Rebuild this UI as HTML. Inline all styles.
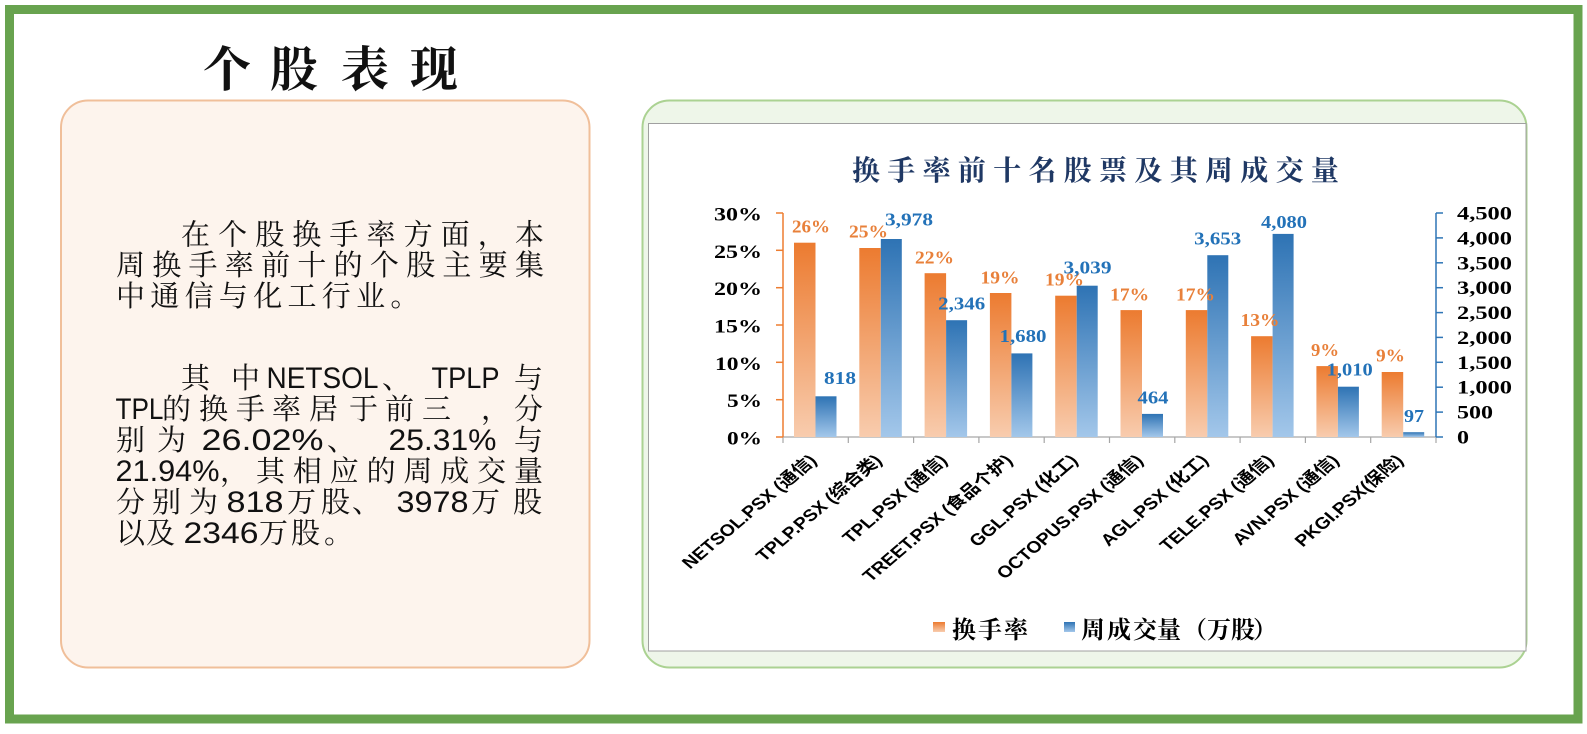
<!DOCTYPE html>
<html>
<head>
<meta charset="utf-8">
<style>
html,body{margin:0;padding:0;background:#fff;}
svg{display:block;}
.cj{font-family:"Liberation Sans","Noto Serif CJK SC",serif;font-size:29px;fill:#111;}
.lt{font-family:"Liberation Sans","Noto Sans CJK SC",sans-serif;font-size:30px;fill:#111;}
.ax{font-family:"Liberation Serif","Noto Serif CJK SC",serif;font-size:19px;font-weight:bold;fill:#000;}
.dl{font-family:"Liberation Serif","Noto Serif CJK SC",serif;font-size:18px;font-weight:bold;}
.xl{font-family:"Liberation Sans","Noto Sans CJK SC",sans-serif;font-size:16.5px;font-weight:bold;fill:#000;}
.lg{font-family:"Liberation Serif","Noto Serif CJK SC",serif;font-size:24px;font-weight:bold;fill:#000;}
</style>
</head>
<body>
<svg width="1587" height="734" viewBox="0 0 1587 734" xmlns="http://www.w3.org/2000/svg">
<defs>
<linearGradient id="go" x1="0" y1="0" x2="0" y2="1"><stop offset="0" stop-color="#ec7b30"/><stop offset="1" stop-color="#f8ccae"/></linearGradient>
<linearGradient id="gb" x1="0" y1="0" x2="0" y2="1"><stop offset="0" stop-color="#2e73b4"/><stop offset="1" stop-color="#a3c7ea"/></linearGradient>
</defs>
<rect width="1587" height="734" fill="#fff"/>
<!-- outer frame -->
<rect x="9.5" y="9.5" width="1568.5" height="709.5" fill="none" stroke="#68a34f" stroke-width="9"/>

<!-- left panel -->
<rect x="61" y="100.5" width="528.5" height="567" rx="27" fill="#fdf4ed" stroke="#f0bf9a" stroke-width="2"/>
<text x="203 270 341 410" y="86" style="font-family:'Liberation Serif','Noto Serif CJK SC',serif;font-size:48px;font-weight:bold;fill:#111;">个股表现</text>

<!-- paragraph 1 -->
<text class="cj" y="244.5" x="181 218.1 255.2 292.3 329.4 366.5 403.6 440.7 477.8 514.9">在个股换手率方面，本</text>
<text class="cj" y="275" x="116 152.3 188.5 224.8 261.1 297.4 333.6 369.9 406.2 442.4 478.7 515">周换手率前十的个股主要集</text>
<text class="cj" y="306" x="116 150.3 184.6 218.9 253.2 287.5 321.8 356.1 390.4">中通信与化工行业。</text>

<!-- paragraph 2 -->
<text class="cj" y="388" x="181">其</text>
<text class="cj" y="388" x="231">中</text>
<text class="lt" y="388" x="266.5" textLength="112" lengthAdjust="spacingAndGlyphs">NETSOL</text>
<text class="cj" y="388" x="382">、</text>
<text class="lt" y="388" x="431.5" textLength="68" lengthAdjust="spacingAndGlyphs">TPLP</text>
<text class="cj" y="388" x="514">与</text>

<text class="lt" y="419" x="115.5" textLength="48" lengthAdjust="spacingAndGlyphs">TPL</text>
<text class="cj" y="419" x="162 199 236 272 309 349 385 422 481 514">的换手率居于前三，分</text>

<text class="cj" y="450" x="116 157">别为</text>
<text class="lt" y="450" x="201.5" textLength="122" lengthAdjust="spacingAndGlyphs">26.02%</text>
<text class="cj" y="450" x="327">、</text>
<text class="lt" y="450" x="388.5" textLength="108" lengthAdjust="spacingAndGlyphs">25.31%</text>
<text class="cj" y="450" x="514">与</text>

<text class="lt" y="481" x="115.5" textLength="104" lengthAdjust="spacingAndGlyphs">21.94%</text>
<text class="cj" y="481" x="220 256 292.9 329.7 366.6 403.4 440.3 477.1 514">，其相应的周成交量</text>

<text class="cj" y="512" x="116 152 189">分别为</text>
<text class="lt" y="512" x="226.5" textLength="57" lengthAdjust="spacingAndGlyphs">818</text>
<text class="cj" y="512" x="287 321 352">万股、</text>
<text class="lt" y="512" x="396.5" textLength="72" lengthAdjust="spacingAndGlyphs">3978</text>
<text class="cj" y="512" x="471 513">万股</text>

<text class="cj" y="543" x="116 146">以及</text>
<text class="lt" y="543" x="183.5" textLength="75" lengthAdjust="spacingAndGlyphs">2346</text>
<text class="cj" y="543" x="259 291 324">万股。</text>

<!-- chart panel -->
<rect x="642.5" y="100.5" width="884" height="567" rx="27" fill="#eef6e9" stroke="#abd292" stroke-width="2"/>
<rect x="648.5" y="123.5" width="877.5" height="527.5" fill="#fff" stroke="#a0a0a0" stroke-width="1"/>

<text y="180" x="852 887.3 922.6 957.9 993.2 1028.5 1063.8 1099.1 1134.4 1169.7 1205 1240.3 1275.6 1310.9" style="font-family:'Liberation Serif','Noto Serif CJK SC',serif;font-size:28px;font-weight:bold;fill:#1f3864;">换手率前十名股票及其周成交量</text>

<!-- x axis -->
<line x1="783" y1="437" x2="1436" y2="437" stroke="#a6a6a6" stroke-width="1.2"/>
<g stroke="#a6a6a6" stroke-width="1.2">
<line x1="783" y1="437" x2="783" y2="443"/><line x1="848.3" y1="437" x2="848.3" y2="443"/><line x1="913.6" y1="437" x2="913.6" y2="443"/><line x1="978.9" y1="437" x2="978.9" y2="443"/><line x1="1044.2" y1="437" x2="1044.2" y2="443"/><line x1="1109.5" y1="437" x2="1109.5" y2="443"/><line x1="1174.8" y1="437" x2="1174.8" y2="443"/><line x1="1240.1" y1="437" x2="1240.1" y2="443"/><line x1="1305.4" y1="437" x2="1305.4" y2="443"/><line x1="1370.7" y1="437" x2="1370.7" y2="443"/><line x1="1436" y1="437" x2="1436" y2="443"/>
</g>

<!-- orange bars -->
<g fill="url(#go)">
<rect x="794" y="242.7" width="21.5" height="194.3"/>
<rect x="859.3" y="248" width="21.5" height="189"/>
<rect x="924.6" y="273.2" width="21.5" height="163.8"/>
<rect x="989.9" y="293" width="21.5" height="144"/>
<rect x="1055.2" y="295.7" width="21.5" height="141.3"/>
<rect x="1120.5" y="310.1" width="21.5" height="126.9"/>
<rect x="1185.8" y="310.1" width="21.5" height="126.9"/>
<rect x="1251.1" y="336.2" width="21.5" height="100.8"/>
<rect x="1316.4" y="366.1" width="21.5" height="70.9"/>
<rect x="1381.7" y="372" width="21.5" height="65"/>
</g>
<!-- blue bars -->
<g fill="url(#gb)">
<rect x="815.5" y="396.3" width="21" height="40.7"/>
<rect x="880.8" y="239" width="21" height="198"/>
<rect x="946.1" y="320.2" width="21" height="116.8"/>
<rect x="1011.4" y="353.4" width="21" height="83.6"/>
<rect x="1076.7" y="285.7" width="21" height="151.3"/>
<rect x="1142" y="413.9" width="21" height="23.1"/>
<rect x="1207.3" y="255.2" width="21" height="181.8"/>
<rect x="1272.6" y="233.9" width="21" height="203.1"/>
<rect x="1337.9" y="386.7" width="21" height="50.3"/>
<rect x="1403.2" y="432.2" width="21" height="4.8"/>
</g>

<!-- left axis -->
<g stroke="#ed7d31" stroke-width="1.5">
<line x1="783" y1="213" x2="783" y2="437"/>
<line x1="776" y1="213" x2="783" y2="213"/><line x1="776" y1="250.3" x2="783" y2="250.3"/><line x1="776" y1="287.7" x2="783" y2="287.7"/><line x1="776" y1="325" x2="783" y2="325"/><line x1="776" y1="362.3" x2="783" y2="362.3"/><line x1="776" y1="399.7" x2="783" y2="399.7"/><line x1="776" y1="437" x2="783" y2="437"/>
</g>
<g class="ax" text-anchor="end">
<text class="ax" x="762" y="220.5" text-anchor="end" textLength="48" lengthAdjust="spacingAndGlyphs">30%</text>
<text class="ax" x="762" y="257.8" text-anchor="end" textLength="48" lengthAdjust="spacingAndGlyphs">25%</text>
<text class="ax" x="762" y="295.2" text-anchor="end" textLength="48" lengthAdjust="spacingAndGlyphs">20%</text>
<text class="ax" x="762" y="332.5" text-anchor="end" textLength="48" lengthAdjust="spacingAndGlyphs">15%</text>
<text class="ax" x="762" y="369.8" text-anchor="end" textLength="47" lengthAdjust="spacingAndGlyphs">10%</text>
<text class="ax" x="762" y="407.2" text-anchor="end" textLength="35" lengthAdjust="spacingAndGlyphs">5%</text>
<text class="ax" x="762" y="444.5" text-anchor="end" textLength="35" lengthAdjust="spacingAndGlyphs">0%</text>
</g>

<!-- right axis -->
<g stroke="#2e75b6" stroke-width="1.5">
<line x1="1436" y1="213" x2="1436" y2="437"/>
<line x1="1436" y1="213" x2="1443" y2="213"/><line x1="1436" y1="237.9" x2="1443" y2="237.9"/><line x1="1436" y1="262.8" x2="1443" y2="262.8"/><line x1="1436" y1="287.7" x2="1443" y2="287.7"/><line x1="1436" y1="312.6" x2="1443" y2="312.6"/><line x1="1436" y1="337.4" x2="1443" y2="337.4"/><line x1="1436" y1="362.3" x2="1443" y2="362.3"/><line x1="1436" y1="387.2" x2="1443" y2="387.2"/><line x1="1436" y1="412.1" x2="1443" y2="412.1"/><line x1="1436" y1="437" x2="1443" y2="437"/>
</g>
<text class="ax" x="1457" y="219.5" textLength="55" lengthAdjust="spacingAndGlyphs">4,500</text>
<text class="ax" x="1457" y="244.4" textLength="55" lengthAdjust="spacingAndGlyphs">4,000</text>
<text class="ax" x="1457" y="269.3" textLength="55" lengthAdjust="spacingAndGlyphs">3,500</text>
<text class="ax" x="1457" y="294.2" textLength="55" lengthAdjust="spacingAndGlyphs">3,000</text>
<text class="ax" x="1457" y="319.1" textLength="55" lengthAdjust="spacingAndGlyphs">2,500</text>
<text class="ax" x="1457" y="343.9" textLength="55" lengthAdjust="spacingAndGlyphs">2,000</text>
<text class="ax" x="1457" y="368.8" textLength="55" lengthAdjust="spacingAndGlyphs">1,500</text>
<text class="ax" x="1457" y="393.7" textLength="55" lengthAdjust="spacingAndGlyphs">1,000</text>
<text class="ax" x="1457" y="418.6" textLength="36" lengthAdjust="spacingAndGlyphs">500</text>
<text class="ax" x="1457" y="443.5" textLength="12" lengthAdjust="spacingAndGlyphs">0</text>

<!-- data labels orange -->
<g class="dl" fill="#e8803a" text-anchor="middle">
<text class="dl" fill="#e8803a" text-anchor="middle" x="811" y="232.5" textLength="38" lengthAdjust="spacingAndGlyphs">26%</text>
<text class="dl" fill="#e8803a" text-anchor="middle" x="868.5" y="237.5" textLength="39" lengthAdjust="spacingAndGlyphs">25%</text>
<text class="dl" fill="#e8803a" text-anchor="middle" x="934.5" y="263.5" textLength="39" lengthAdjust="spacingAndGlyphs">22%</text>
<text class="dl" fill="#e8803a" text-anchor="middle" x="1000" y="283.5" textLength="39" lengthAdjust="spacingAndGlyphs">19%</text>
<text class="dl" fill="#e8803a" text-anchor="middle" x="1064.5" y="285.3" textLength="39" lengthAdjust="spacingAndGlyphs">19%</text>
<text class="dl" fill="#e8803a" text-anchor="middle" x="1129.7" y="300.3" textLength="39" lengthAdjust="spacingAndGlyphs">17%</text>
<text class="dl" fill="#e8803a" text-anchor="middle" x="1195.5" y="300.3" textLength="39" lengthAdjust="spacingAndGlyphs">17%</text>
<text class="dl" fill="#e8803a" text-anchor="middle" x="1260" y="326" textLength="39" lengthAdjust="spacingAndGlyphs">13%</text>
<text class="dl" fill="#e8803a" text-anchor="middle" x="1325" y="356" textLength="28" lengthAdjust="spacingAndGlyphs">9%</text>
<text class="dl" fill="#e8803a" text-anchor="middle" x="1390.5" y="361.3" textLength="29" lengthAdjust="spacingAndGlyphs">9%</text>
</g>
<!-- data labels blue -->
<g>
<text class="dl" fill="#2372b8" text-anchor="middle" x="840" y="384" textLength="32" lengthAdjust="spacingAndGlyphs">818</text>
<text class="dl" fill="#2372b8" text-anchor="middle" x="909" y="225.3" textLength="48" lengthAdjust="spacingAndGlyphs">3,978</text>
<text class="dl" fill="#2372b8" text-anchor="middle" x="961.7" y="309.3" textLength="47" lengthAdjust="spacingAndGlyphs">2,346</text>
<text class="dl" fill="#2372b8" text-anchor="middle" x="1023" y="342" textLength="47" lengthAdjust="spacingAndGlyphs">1,680</text>
<text class="dl" fill="#2372b8" text-anchor="middle" x="1087.5" y="273.7" textLength="48" lengthAdjust="spacingAndGlyphs">3,039</text>
<text class="dl" fill="#2372b8" text-anchor="middle" x="1153" y="403.7" textLength="31" lengthAdjust="spacingAndGlyphs">464</text>
<text class="dl" fill="#2372b8" text-anchor="middle" x="1217.7" y="244.7" textLength="47" lengthAdjust="spacingAndGlyphs">3,653</text>
<text class="dl" fill="#2372b8" text-anchor="middle" x="1284" y="228" textLength="46" lengthAdjust="spacingAndGlyphs">4,080</text>
<text class="dl" fill="#2372b8" text-anchor="middle" x="1349.7" y="375.3" textLength="46" lengthAdjust="spacingAndGlyphs">1,010</text>
<text class="dl" fill="#2372b8" text-anchor="middle" x="1414" y="422" textLength="20" lengthAdjust="spacingAndGlyphs">97</text>
</g>

<!-- x labels -->
<text class="xl" text-anchor="end" transform="translate(817.7 461.5) scale(1.18 1) rotate(-45)">NETSOL.PSX (通信)</text>
<text class="xl" text-anchor="end" transform="translate(883 461.5) scale(1.18 1) rotate(-45)">TPLP.PSX (综合类)</text>
<text class="xl" text-anchor="end" transform="translate(948.3 461.5) scale(1.18 1) rotate(-45)">TPL.PSX (通信)</text>
<text class="xl" text-anchor="end" transform="translate(1013.6 461.5) scale(1.18 1) rotate(-45)">TREET.PSX (食品个护)</text>
<text class="xl" text-anchor="end" transform="translate(1078.9 461.5) scale(1.18 1) rotate(-45)">GGL.PSX (化工)</text>
<text class="xl" text-anchor="end" transform="translate(1144.2 461.5) scale(1.18 1) rotate(-45)">OCTOPUS.PSX (通信)</text>
<text class="xl" text-anchor="end" transform="translate(1209.5 461.5) scale(1.18 1) rotate(-45)">AGL.PSX (化工)</text>
<text class="xl" text-anchor="end" transform="translate(1274.8 461.5) scale(1.18 1) rotate(-45)">TELE.PSX (通信)</text>
<text class="xl" text-anchor="end" transform="translate(1340.1 461.5) scale(1.18 1) rotate(-45)">AVN.PSX (通信)</text>
<text class="xl" text-anchor="end" transform="translate(1404.4 461.5) scale(1.18 1) rotate(-45)">PKGI.PSX(保险)</text>

<!-- legend -->
<rect x="933" y="622" width="12" height="10" fill="url(#go)"/>
<text class="lg" y="638" x="952 978 1004">换手率</text>
<rect x="1064" y="622" width="11" height="10" fill="url(#gb)"/>
<text class="lg" y="638" x="1081 1107 1133 1157 1183 1207 1231 1253">周成交量（万股）</text>
</svg>
</body>
</html>
